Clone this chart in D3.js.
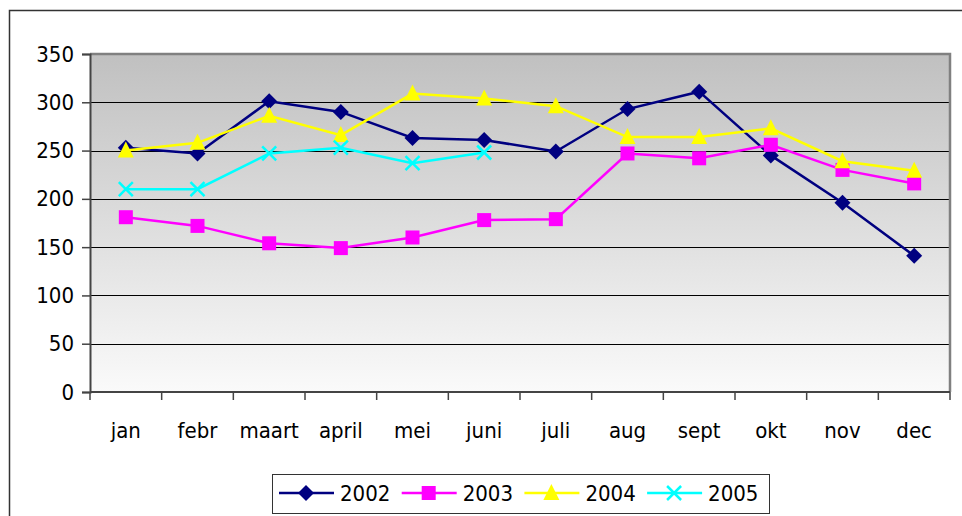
<!DOCTYPE html>
<html>
<head>
<meta charset="utf-8">
<script src="https://cdn.jsdelivr.net/npm/d3@7"></script>
<style>
  body { margin: 0; background: #fff; }
  text { font-family: "DejaVu Sans Condensed", "DejaVu Sans", sans-serif; fill: #000; }
</style>
</head>
<body>
<script>
// maanden en jaren
var months = ["jan", "febr", "maart", "april", "mei", "juni", "juli", "aug", "sept", "okt", "nov", "dec"];
var years = ["2002", "2003", "2004", "2005"];
var yTicks = [0, 50, 100, 150, 200, 250, 300, 350];

var v2002 = [253, 247, 301, 290, 263, 261, 249, 293, 311, 245, 196, 141];
var v2003 = [181, 172, 154, 149, 160, 178, 179, 247, 242, 256, 230, 216];
var v2004 = [250, 258, 286, 266, 309, 304, 296, 264, 264, 273, 239, 229];
var v2005 = [210, 210, 247, 253, 237, 248];

var colors = ["#000080", "#ff00ff", "#ffff00", "#00ffff"];
var symbols = ["diamond", "square", "triangle", "cross"];
var series = [v2002, v2003, v2004, v2005];

var width = 962, height = 516;
var svg = d3.select("body").append("svg").attr("width", width).attr("height", height);

// buitenkader
svg.append("rect").attr("x", 9.5).attr("y", 10.5).attr("width", 960).attr("height", 520)
    .attr("fill", "none").attr("stroke", "#333").attr("stroke-width", 1.5);

var pLeft = 90, pRight = 950, pTop = 54, pBottom = 392;

var x = d3.scaleBand().domain(months).range([pLeft, pRight]);
var y = d3.scaleLinear().domain([0, 350]).range([pBottom, pTop]);

// achtergrond verloop
var defs = svg.append("defs");
var grad = defs.append("linearGradient").attr("id", "bg").attr("x1", 0).attr("y1", 0).attr("x2", 0).attr("y2", 1);
grad.append("stop").attr("offset", "0%").attr("stop-color", "#c0c0c0");
grad.append("stop").attr("offset", "100%").attr("stop-color", "#fafafa");

svg.append("rect").attr("x", pLeft).attr("y", pTop).attr("width", pRight - pLeft).attr("height", pBottom - pTop)
    .attr("fill", "url(#bg)");

// rasterlijnen
svg.append("g").selectAll("line").data(yTicks.filter(function(d){ return d > 0 && d < 350; }))
    .enter().append("line")
    .attr("x1", pLeft).attr("x2", pRight)
    .attr("y1", function(d){ return Math.round(y(d)) + 0.5; })
    .attr("y2", function(d){ return Math.round(y(d)) + 0.5; })
    .attr("stroke", "#000").attr("stroke-width", 1);

// rand van plotgebied
svg.append("path")
    .attr("d", "M" + pLeft + "," + pTop + "H" + pRight + "V" + pBottom)
    .attr("fill", "none").attr("stroke", "#808080").attr("stroke-width", 2.5);

// y-as
var yAxis = d3.axisLeft(y).tickValues(yTicks).tickSize(8).tickPadding(8);
var gy = svg.append("g").attr("transform", "translate(" + pLeft + ",0)").call(yAxis);
gy.select(".domain").attr("stroke", "#444").attr("stroke-width", 2);
gy.selectAll(".tick line").attr("stroke", "#444").attr("stroke-width", 1.5);
gy.selectAll("text").style("font-size", "22px").attr("fill", "#000");

// x-as met streepjes op de grenzen
var gx = svg.append("g").attr("transform", "translate(0," + pBottom + ")");
gx.append("line").attr("x1", pLeft).attr("x2", pRight).attr("stroke", "#444").attr("stroke-width", 2);
var bounds = months.map(function(m){ return x(m); }).concat([pRight]);
gx.selectAll(".tk").data(bounds).enter().append("line")
    .attr("x1", function(d){ return d; }).attr("x2", function(d){ return d; })
    .attr("y1", 0).attr("y2", 8).attr("stroke", "#444").attr("stroke-width", 1.5);
gx.selectAll(".lbl").data(months).enter().append("text")
    .attr("x", function(d){ return x(d) + x.bandwidth() / 2; })
    .attr("y", 46).attr("text-anchor", "middle").style("font-size", "22px")
    .text(function(d){ return d; });

function drawMarker(g, type, color) {
    if (type === "diamond") {
        g.append("path").attr("d", "M0,-8L8,0L0,8L-8,0Z").attr("fill", color);
    } else if (type === "square") {
        g.append("rect").attr("x", -7).attr("y", -7).attr("width", 14).attr("height", 14).attr("fill", color);
    } else if (type === "triangle") {
        g.append("path").attr("d", "M0,-9L8,7L-8,7Z").attr("fill", color);
    } else {
        g.append("path").attr("d", "M-7,-7L7,7M-7,7L7,-7").attr("stroke", color).attr("stroke-width", 2.5);
    }
}

var line = d3.line()
    .x(function(d, i){ return x(months[i]) + x.bandwidth() / 2; })
    .y(function(d){ return y(d); });

series.forEach(function(vals, s) {
    svg.append("path").attr("d", line(vals)).attr("fill", "none")
        .attr("stroke", colors[s]).attr("stroke-width", 2.5);
    vals.forEach(function(v, i) {
        var g = svg.append("g").attr("transform", "translate(" + (x(months[i]) + x.bandwidth() / 2) + "," + y(v) + ")");
        drawMarker(g, symbols[s], colors[s]);
    });
});

// legenda
var lg = svg.append("g");
lg.append("rect").attr("x", 272.5).attr("y", 474.5).attr("width", 497).attr("height", 39)
    .attr("fill", "#fff").attr("stroke", "#333").attr("stroke-width", 1);
years.forEach(function(yr, s) {
    var lx = 279 + s * 122.7;
    var ly = 493;
    lg.append("line").attr("x1", lx).attr("x2", lx + 55).attr("y1", ly).attr("y2", ly)
        .attr("stroke", colors[s]).attr("stroke-width", 2.5);
    var g = lg.append("g").attr("transform", "translate(" + (lx + 27) + "," + ly + ")");
    drawMarker(g, symbols[s], colors[s]);
    lg.append("text").attr("x", lx + 61).attr("y", ly + 8).style("font-size", "22px").text(yr);
});
</script>
</body>
</html>
